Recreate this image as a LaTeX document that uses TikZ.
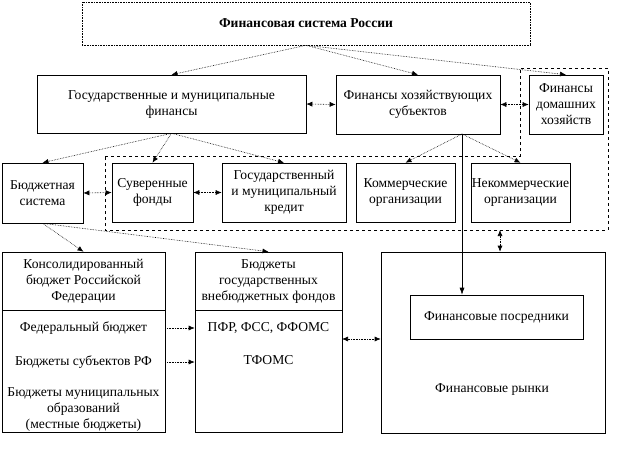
\documentclass[tikz,border=0pt]{standalone}
\usepackage{fontspec}
\setmainfont{Liberation Serif}
\usetikzlibrary{arrows.meta}
\begin{document}
\begin{tikzpicture}[x=1pt,y=-1pt,
  font=\fontsize{13.6}{16}\selectfont,
  box/.style={draw,line width=0.6pt,inner sep=0pt,align=center},
  arr/.style={densely dotted,line width=0.6pt,-{Latex[length=6pt,width=5pt]}},
  dbl/.style={densely dotted,line width=0.6pt,{Latex[length=6pt,width=5pt]}-{Latex[length=6pt,width=5pt]}}]
\useasboundingbox (0,0) rectangle (617,453);
% region around the lower row
\draw[dashed,line width=0.6pt] (105,156) -- (520,156) -- (520,68) -- (608,68)
 -- (608,230) -- (105,230) -- cycle;
\node[box,densely dotted,minimum width=448pt,minimum height=43pt,font=\fontsize{13.6}{16}\selectfont\bfseries]
  (top) at (306,23.5) {Финансовая система России};
\node[box,minimum width=269pt,minimum height=58pt] (gmf) at (171.5,104)
  {Государственные и муниципальные\\финансы};
\node[box,minimum width=164pt,minimum height=59pt] (fhs) at (418,104.5)
  {Финансы хозяйствующих\\субъектов};
\node[box,minimum width=74pt,minimum height=59pt] (fdh) at (566,104.5)
  {Финансы\\домашних\\хозяйств};
\node[box,minimum width=81pt,minimum height=60pt] (bs) at (42.5,193) {Бюджетная\\система};
\node[box,minimum width=81pt,minimum height=59pt] (sf) at (152.5,192.5) {Суверенные\\фонды};
\node[box,minimum width=124pt,minimum height=59pt] (gmk) at (284,192.5)
  {Государственный\\и муниципальный\\кредит};
\node[box,minimum width=99pt,minimum height=59pt] (ko) at (405.5,192.5) {Коммерческие\\организации};
\node[box,minimum width=99pt,minimum height=59pt] (nko) at (520.5,192.5) {Некоммерческие\\организации};
\begin{scope}
\node[box,minimum width=163pt,minimum height=58pt] (kbh) at (83.5,281)
  {Консолидированный\\бюджет Российской\\Федерации};
\node[box,minimum width=163pt,minimum height=122pt,anchor=north] (kbb) at (kbh.south) {};
\node (fb) at (83.5,328) {Федеральный бюджет};
\node (bsub) at (83.5,362) {Бюджеты субъектов РФ};
\node[align=center] (bmo) at (83.5,409) {Бюджеты муниципальных\\образований\\(местные бюджеты)};
\end{scope}
\begin{scope}
\node[box,minimum width=147pt,minimum height=58pt] (bvfh) at (268.5,281)
  {Бюджеты\\государственных\\внебюджетных фондов};
\node[box,minimum width=147pt,minimum height=122pt,anchor=north] (bvfb) at (bvfh.south) {};
\node (pfr) at (268.5,328) {ПФР, ФСС, ФФОМС};
\node (tfoms) at (268.5,360) {ТФОМС};
\end{scope}
\node[box,minimum width=224pt,minimum height=181pt] (fr) at (493,342.5) {};
\node (frt) at (492,389) {Финансовые рынки};
\node[box,minimum width=173pt,minimum height=44pt] (fp) at (496.5,317) {Финансовые посредники};
\coordinate (v1) at (462,134);
\coordinate (m1) at (342,339);
\coordinate (rb) at (500,230);
\draw[arr] (top.south) -- (gmf.north);
\draw[arr] (top.south) -- (fhs.north);
\draw[arr] (top.south) -- (fdh.north);
\draw[arr] (gmf.south) -- (bs.north);
\draw[arr] (gmf.south) -- (sf.north);
\draw[arr] (gmf.south) -- (gmk.north);
\draw[arr] (v1) -- (ko.north);
\draw[arr] (v1) -- (nko.north);
\draw[line width=0.6pt,-{Latex[length=7pt,width=5pt]}] (v1) -- (v1 |- fp.north);
\draw[arr] (bs.south) -- (kbh.north);
\draw[arr] (bs.south) -- (bvfh.north);
\draw[dbl] (gmf.east) -- (fhs.west);
\draw[dbl] (fhs.east) -- (fdh.west);
\draw[dbl] (bs.east) -- (sf.west);
\draw[dbl] (sf.east) -- (gmk.west);
\draw[arr] (fb.east -| kbb.east) -- (fb.east -| bvfb.west);
\draw[arr] (bsub.east -| kbb.east) -- (bsub.east -| bvfb.west);
\draw[dbl] (m1) -- (m1 -| fr.west);
\draw[dbl] (rb) -- (rb |- fr.north);
\end{tikzpicture}
\end{document}
